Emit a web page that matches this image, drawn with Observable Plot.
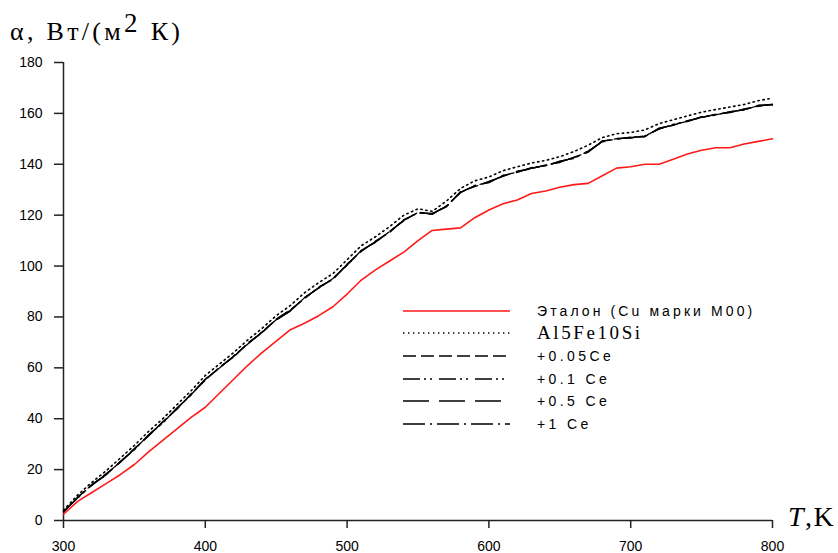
<!DOCTYPE html>
<html>
<head>
<meta charset="utf-8">
<script src="https://cdn.jsdelivr.net/npm/d3@7"></script>
<script src="https://cdn.jsdelivr.net/npm/@observablehq/plot@0.6"></script>
<style>
  html, body { margin: 0; padding: 0; background: #fff; }
  #chart svg { display: block; }
</style>
</head>
<body>
<div id="chart"></div>
<script>
// Temperature grid, K
const temperature = [300, 310, 320, 330, 340, 350, 360, 370, 380, 390,
  400, 410, 420, 430, 440, 450, 460, 470, 480, 490,
  500, 510, 520, 530, 540, 550, 560, 570, 580, 590,
  600, 610, 620, 630, 640, 650, 660, 670, 680, 690,
  700, 710, 720, 730, 740, 750, 760, 770, 780, 790, 800];

// Heat-transfer coefficient α, W/(m²·K)
const etalon = [2.5, 7.5, 11, 14.5, 18, 22, 27, 31.5, 36, 40.5,
  44.5, 50, 55.5, 61, 66, 70.5, 75, 77.5, 80.5, 84,
  89, 94.5, 98.5, 102, 105.5, 110, 114, 114.5, 115, 119,
  122, 124.5, 126, 128.5, 129.5, 131, 132, 132.5, 135.5, 138.5,
  139, 140, 140, 142, 144, 145.5, 146.5, 146.5, 148, 149, 150];

const al5fe10si = [4, 10, 15, 19.5, 24.5, 29.5, 35, 40, 45.5, 51,
  57, 61.5, 66, 71, 75.5, 80.5, 84.5, 89.5, 93.5, 97,
  102.5, 108, 111.5, 115.5, 120, 122.5, 121.5, 125.5, 130.5, 133.5,
  135, 137.5, 139, 140.5, 141.5, 143, 145, 147.5, 150.5, 152,
  152.5, 153.5, 156, 157.5, 159, 160.5, 161.5, 162.5, 163.5, 165, 166];

const ce005 = [3.3, 9.2, 13.8, 18.4, 22.8, 28.3, 33.2, 38.9, 43.7, 49.8,
  55.1, 60.3, 64.2, 69.8, 73.7, 79.2, 82.8, 87.2, 91.8, 94.7,
  100.8, 105.7, 109.8, 113.2, 118.3, 120.8, 120.7, 123.2, 129.3, 131.2,
  133.3, 135.2, 137.3, 138.2, 139.8, 140.7, 142.8, 144.7, 149.2, 149.8,
  150.7, 150.8, 154.2, 155.3, 157.2, 158.3, 159.7, 160.3, 161.8, 162.8, 163.7];

const ce01 = [3.6, 8.8, 14.2, 17.8, 23.2, 27.8, 33.7, 38.3, 44.2, 49.3,
  55.6, 59.8, 64.7, 69.3, 74.2, 78.8, 82.3, 87.7, 91.3, 95.2,
  100.3, 106.2, 109.3, 113.7, 117.8, 121.2, 120.3, 123.7, 128.8, 131.7,
  132.8, 135.7, 136.8, 138.7, 139.3, 141.2, 142.3, 145.2, 148.8, 150.2,
  150.3, 151.2, 153.8, 155.7, 156.8, 158.7, 159.3, 160.7, 161.3, 163.2, 163.3];

const ce05 = [3.4, 9.1, 13.9, 18.2, 22.9, 28.1, 33.4, 38.6, 43.9, 49.6,
  55.4, 60.1, 64.4, 69.6, 73.9, 79.1, 82.6, 87.4, 91.6, 94.9,
  100.6, 105.9, 109.6, 113.4, 118.1, 120.9, 120.6, 123.4, 129.1, 131.4,
  133.1, 135.4, 137.1, 138.4, 139.6, 140.9, 142.6, 144.9, 149.1, 149.9,
  150.6, 150.9, 154.1, 155.4, 157.1, 158.4, 159.6, 160.4, 161.6, 162.9, 163.6];

const ce1 = [3.5, 8.9, 14.1, 17.9, 23.1, 27.9, 33.6, 38.4, 44.1, 49.4,
  55.5, 59.9, 64.6, 69.4, 74.1, 78.9, 82.4, 87.6, 91.4, 95.1,
  100.4, 106.1, 109.4, 113.6, 117.9, 121.1, 120.4, 123.6, 128.9, 131.6,
  132.9, 135.6, 136.9, 138.6, 139.4, 141.1, 142.4, 145.1, 148.9, 150.1,
  150.4, 151.1, 153.9, 155.6, 156.9, 158.6, 159.4, 160.6, 161.4, 163.1, 163.4];

const seriesNames = ["Эталон (Cu марки M00)", "Al5Fe10Si", "+0.05Ce", "+0.1 Ce", "+0.5 Ce", "+1 Ce"];
const seriesValues = [etalon, al5fe10si, ce005, ce01, ce05, ce1];

const xTicks = [300, 400, 500, 600, 700, 800];
const yTicks = [0, 20, 40, 60, 80, 100, 120, 140, 160, 180];

// Line styles per series
const styles = [
  {stroke: "#ff1a1a", width: 1.6, dash: null},
  {stroke: "#000", width: 1.6, dash: "1.4,3.6"},
  {stroke: "#000", width: 1.3, dash: "13,5"},
  {stroke: "#000", width: 1.3, dash: "17,4,2,4,2,7"},
  {stroke: "#000", width: 1.3, dash: "26,10"},
  {stroke: "#000", width: 1.3, dash: "22,5,2,5"}
];

const tables = seriesValues.map((vals, i) =>
  vals.map((v, j) => ({T: temperature[j], alpha: v, series: seriesNames[i]})));

// draw order: Ce lines first, then the base alloy and the reference
const order = [2, 3, 4, 5, 1, 0];

const plot = Plot.plot({
  width: 838,
  height: 553,
  marginLeft: 63,
  marginRight: 66,
  marginTop: 62,
  marginBottom: 33,
  style: {fontFamily: "'Liberation Sans', Arial, sans-serif", fontSize: "14px", color: "#000", background: "#fff"},
  x: {domain: [xTicks[0], xTicks[xTicks.length - 1]]},
  y: {domain: [yTicks[0], yTicks[yTicks.length - 1]]},
  marks: [
    Plot.axisX({ticks: xTicks, tickSize: 8, tickPadding: 13, label: null, tickFormat: d => String(d), stroke: "#222", strokeWidth: 1.5, style: "letter-spacing: 2.5px"}),
    Plot.axisY({ticks: yTicks, tickSize: 9, tickPadding: 12, label: null, tickFormat: d => String(d), stroke: "#222", strokeWidth: 1.5, style: "letter-spacing: 2.5px"}),
    Plot.ruleX([xTicks[0]], {stroke: "#222", strokeWidth: 1.5}),
    Plot.ruleY([yTicks[0]], {stroke: "#222", strokeWidth: 1.5}),
    ...order.map(i => Plot.line(tables[i], {
      x: "T", y: "alpha",
      stroke: styles[i].stroke,
      strokeWidth: styles[i].width,
      strokeDasharray: styles[i].dash
    }))
  ]
});

document.getElementById("chart").appendChild(plot);

const svg = d3.select(plot);
const serif = "'Liberation Serif', 'Times New Roman', serif";
const sans = "'Liberation Sans', Arial, sans-serif";

// Axis titles
const yTitle = svg.append("text")
  .attr("x", 10).attr("y", 40)
  .attr("text-anchor", "start")
  .attr("font-family", serif)
  .attr("font-size", 26)
  .attr("letter-spacing", "3.3px")
  .attr("fill", "#000");
yTitle.append("tspan").text("α, Вт/(м");
yTitle.append("tspan").attr("dy", -8).attr("font-size", 27).text("2");
yTitle.append("tspan").attr("dy", 8).text(" К)");

const xTitle = svg.append("text")
  .attr("x", 788).attr("y", 526)
  .attr("text-anchor", "start")
  .attr("font-family", serif)
  .attr("font-size", 28)
  .attr("letter-spacing", "1.5px")
  .attr("fill", "#000");
xTitle.append("tspan").attr("font-style", "italic").text("T");
xTitle.append("tspan").text(",K");

// Legend
const legend = svg.append("g").attr("text-anchor", "start");
const rowY = [311, 333, 356, 379, 401, 424];
seriesNames.forEach((name, i) => {
  const y = rowY[i];
  legend.append("line")
    .attr("x1", 403).attr("x2", 510).attr("y1", y).attr("y2", y)
    .attr("stroke", styles[i].stroke)
    .attr("stroke-width", i === 0 ? 1.6 : 1.4)
    .attr("stroke-dasharray", styles[i].dash);
  const t = legend.append("text")
    .attr("x", 537).attr("y", y + 5)
    .attr("text-anchor", "start")
    .attr("fill", "#000")
    .text(name);
  if (i === 1) {
    t.attr("font-family", serif)
      .attr("font-size", 19).attr("letter-spacing", "2.6px").attr("y", y + 6);
  } else {
    t.attr("font-family", sans)
      .attr("font-size", 14).attr("letter-spacing", i === 0 ? "3.1px" : "3.4px");
  }
});
</script>
</body>
</html>
